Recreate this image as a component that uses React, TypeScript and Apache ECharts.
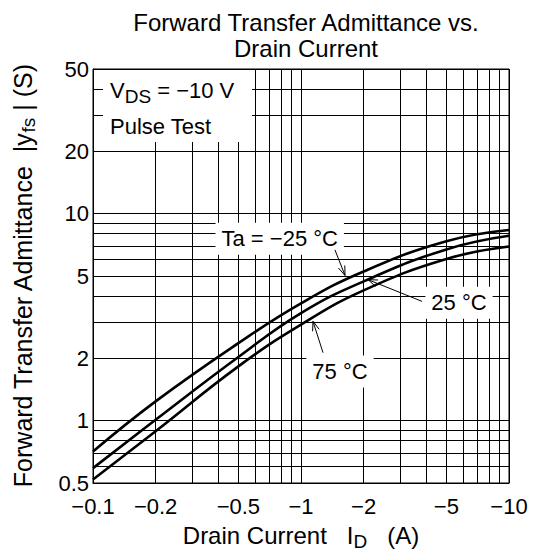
import React, { useEffect, useRef } from 'react';
import * as echarts from 'echarts';

// Drain current |ID| (A) — axis shows negative values
const drainCurrent = [0.1, 0.2, 0.5, 1, 2, 5, 10];
// |yfs| (S) for each ambient temperature
const yfsMinus25 = [0.71, 1.24, 2.37, 3.69, 5.26, 7.36, 8.34];
const yfs25 = [0.59, 1.01, 2.03, 3.31, 4.71, 6.72, 7.82];
const yfs75 = [0.52, 0.889, 1.83, 2.91, 4.26, 6.04, 6.94];

const xTickLabels = [0.1, 0.2, 0.5, 1, 2, 5, 10];
const yTickLabels = [0.5, 1, 2, 5, 10, 20, 50];
const xGridValues = [0.1, 0.2, 0.3, 0.4, 0.5, 0.6, 0.7, 0.8, 0.9, 1, 2, 3, 4, 5, 6, 7, 8, 9, 10];
const yGridValues = [0.5, 0.6, 0.7, 0.8, 0.9, 1, 2, 3, 4, 5, 6, 7, 8, 9, 10, 20, 30, 40, 50];

const FONT = '"Liberation Sans", Arial, Helvetica, sans-serif';

export default function App() {
  const ref = useRef<HTMLDivElement>(null);

  useEffect(() => {
    document.body.style.margin = '0';
    const chart = echarts.init(ref.current!, null, { renderer: 'svg' });

    const fmt = (v: number) => String(Number(Number(v).toPrecision(6)));
    const curve = (ys: number[]) => drainCurrent.map((x, i) => [x, ys[i]]);
    const lineSeries = (name: string, ys: number[]) => ({
      name,
      type: 'line',
      data: curve(ys),
      smooth: 0.45,
      symbol: 'none',
      lineStyle: { color: '#000', width: 2.6 },
      z: 5,
    });

    const nameRich = {
      a: { fontSize: 24, fontFamily: FONT, color: '#000', lineHeight: 28, verticalAlign: 'top' },
      s: { fontSize: 19, fontFamily: FONT, color: '#000', lineHeight: 12, verticalAlign: 'bottom' },
    };
    const yNameRich = {
      a: { fontSize: 25, fontFamily: FONT, color: '#000', lineHeight: 28, verticalAlign: 'top' },
      s: { fontSize: 19, fontFamily: FONT, color: '#000', lineHeight: 12, verticalAlign: 'bottom' },
    };

    chart.setOption({
      animation: false,
      backgroundColor: '#fff',
      title: {
        text: 'Forward Transfer Admittance vs.\nDrain Current',
        left: 301,
        top: 4,
        textAlign: 'center',
        textStyle: { fontSize: 24, fontWeight: 'normal', color: '#000', fontFamily: FONT, lineHeight: 26 },
      },
      grid: {
        left: 93, right: 30, top: 69, bottom: 69,
        show: true, borderColor: '#000', borderWidth: 1,
        containLabel: false, outerBoundsMode: 'none',
      },
      xAxis: {
        type: 'log', logBase: 10, min: 0.1, max: 10,
        axisLine: { show: true, onZero: false, lineStyle: { color: '#000', width: 1 } },
        axisTick: { show: false, customValues: xGridValues },
        axisLabel: {
          customValues: xTickLabels,
          formatter: (v: number) => '\u2212' + fmt(v),
          fontSize: 22, color: '#000', fontFamily: FONT, margin: 12,
        },
        splitLine: { show: true, lineStyle: { color: '#000', width: 1 } },
        name: '{a|Drain Current   I}{s|D}{a|   (A)}',
        nameLocation: 'middle',
        nameGap: 40,
        nameTextStyle: { rich: nameRich },
      },
      yAxis: {
        type: 'log', logBase: 10, min: 0.5, max: 50,
        axisLine: { show: true, onZero: false, lineStyle: { color: '#000', width: 1 } },
        axisTick: { show: false, customValues: yGridValues },
        axisLabel: {
          customValues: yTickLabels,
          formatter: (v: number) => fmt(v),
          fontSize: 22, color: '#000', fontFamily: FONT, margin: 4,
        },
        splitLine: { show: true, lineStyle: { color: '#000', width: 1 } },
        name: '{a|Forward Transfer Admittance  |y}{s|fs}{a| | (S)}',
        nameLocation: 'middle',
        nameGap: 55,
        nameTextStyle: { rich: yNameRich },
      },
      series: [
        lineSeries('Ta = −25 °C', yfsMinus25),
        lineSeries('25 °C', yfs25),
        lineSeries('75 °C', yfs75),
      ],
    });

    const px = (p: number[]) => chart.convertToPixel({ gridIndex: 0 }, p) as number[];
    const graphics: any[] = [];

    // Test-condition box (top-left)
    const b0 = px([0.1117, 50]);
    const b1 = px([0.581, 22.2]);
    graphics.push({
      type: 'rect', z: 20,
      shape: { x: b0[0], y: b0[1] + 1, width: b1[0] - b0[0], height: b1[1] - b0[1] - 1 },
      style: { fill: '#fff' },
    });
    const t1 = px([0.1207, 38.3]);
    graphics.push({
      type: 'text', z: 21, x: t1[0], y: t1[1],
      style: {
        text: '{n|V}{s|DS}{n| = \u221210 V}',
        align: 'left', verticalAlign: 'middle',
        rich: {
          n: { fontSize: 22, fontFamily: FONT, fill: '#000', lineHeight: 26, verticalAlign: 'top' },
          s: { fontSize: 19, fontFamily: FONT, fill: '#000', lineHeight: 10, verticalAlign: 'bottom' },
        },
      },
    });
    const t2 = px([0.1207, 26.5]);
    graphics.push({
      type: 'text', z: 21, x: t2[0], y: t2[1],
      style: { text: 'Pulse Test', fontSize: 22, fontFamily: FONT, fill: '#000', align: 'left', verticalAlign: 'middle' },
    });

    // Curve labels
    const labels: [string, number, number][] = [
      ['Ta = \u221225 \u00B0C', 0.79, 7.56],
      ['25 \u00B0C', 5.75, 3.71],
      ['75 \u00B0C', 1.54, 1.73],
    ];
    labels.forEach(([text, x, y]) => {
      const p = px([x, y]);
      graphics.push({
        type: 'text', z: 21, x: p[0], y: p[1],
        style: {
          text, fontSize: 22, fontFamily: FONT, fill: '#000',
          align: 'center', verticalAlign: 'middle',
          backgroundColor: '#fff', padding: [5, 6],
        },
      });
    });

    // Arrows from labels to curves
    const arrows: [number[], number[]][] = [
      [[1.456, 6.69], [1.628, 5.03]],
      [[3.82, 3.77], [2.1, 4.8]],
      [[1.276, 2.13], [1.142, 3.02]],
    ];
    arrows.forEach(([from, to]) => {
      const a = px(from);
      const b = px(to);
      const dx = b[0] - a[0];
      const dy = b[1] - a[1];
      const len = Math.hypot(dx, dy);
      const ux = dx / len;
      const uy = dy / len;
      const head = 10;
      const ang = (20 * Math.PI) / 180;
      const rot = (c: number, s: number) => [ux * c - uy * s, ux * s + uy * c];
      const r1 = rot(Math.cos(ang), Math.sin(ang));
      const r2 = rot(Math.cos(ang), -Math.sin(ang));
      graphics.push({
        type: 'line', z: 22,
        shape: { x1: a[0], y1: a[1], x2: b[0], y2: b[1] },
        style: { stroke: '#000', lineWidth: 1 },
      });
      graphics.push({
        type: 'polyline', z: 22,
        shape: {
          points: [
            [b[0] - r1[0] * head, b[1] - r1[1] * head],
            [b[0], b[1]],
            [b[0] - r2[0] * head, b[1] - r2[1] * head],
          ],
        },
        style: { stroke: '#000', lineWidth: 1, fill: 'none' },
      });
    });

    chart.setOption({ graphic: graphics });

    return () => chart.dispose();
  }, []);

  return <div ref={ref} style={{ width: 539, height: 552 }} />;
}
